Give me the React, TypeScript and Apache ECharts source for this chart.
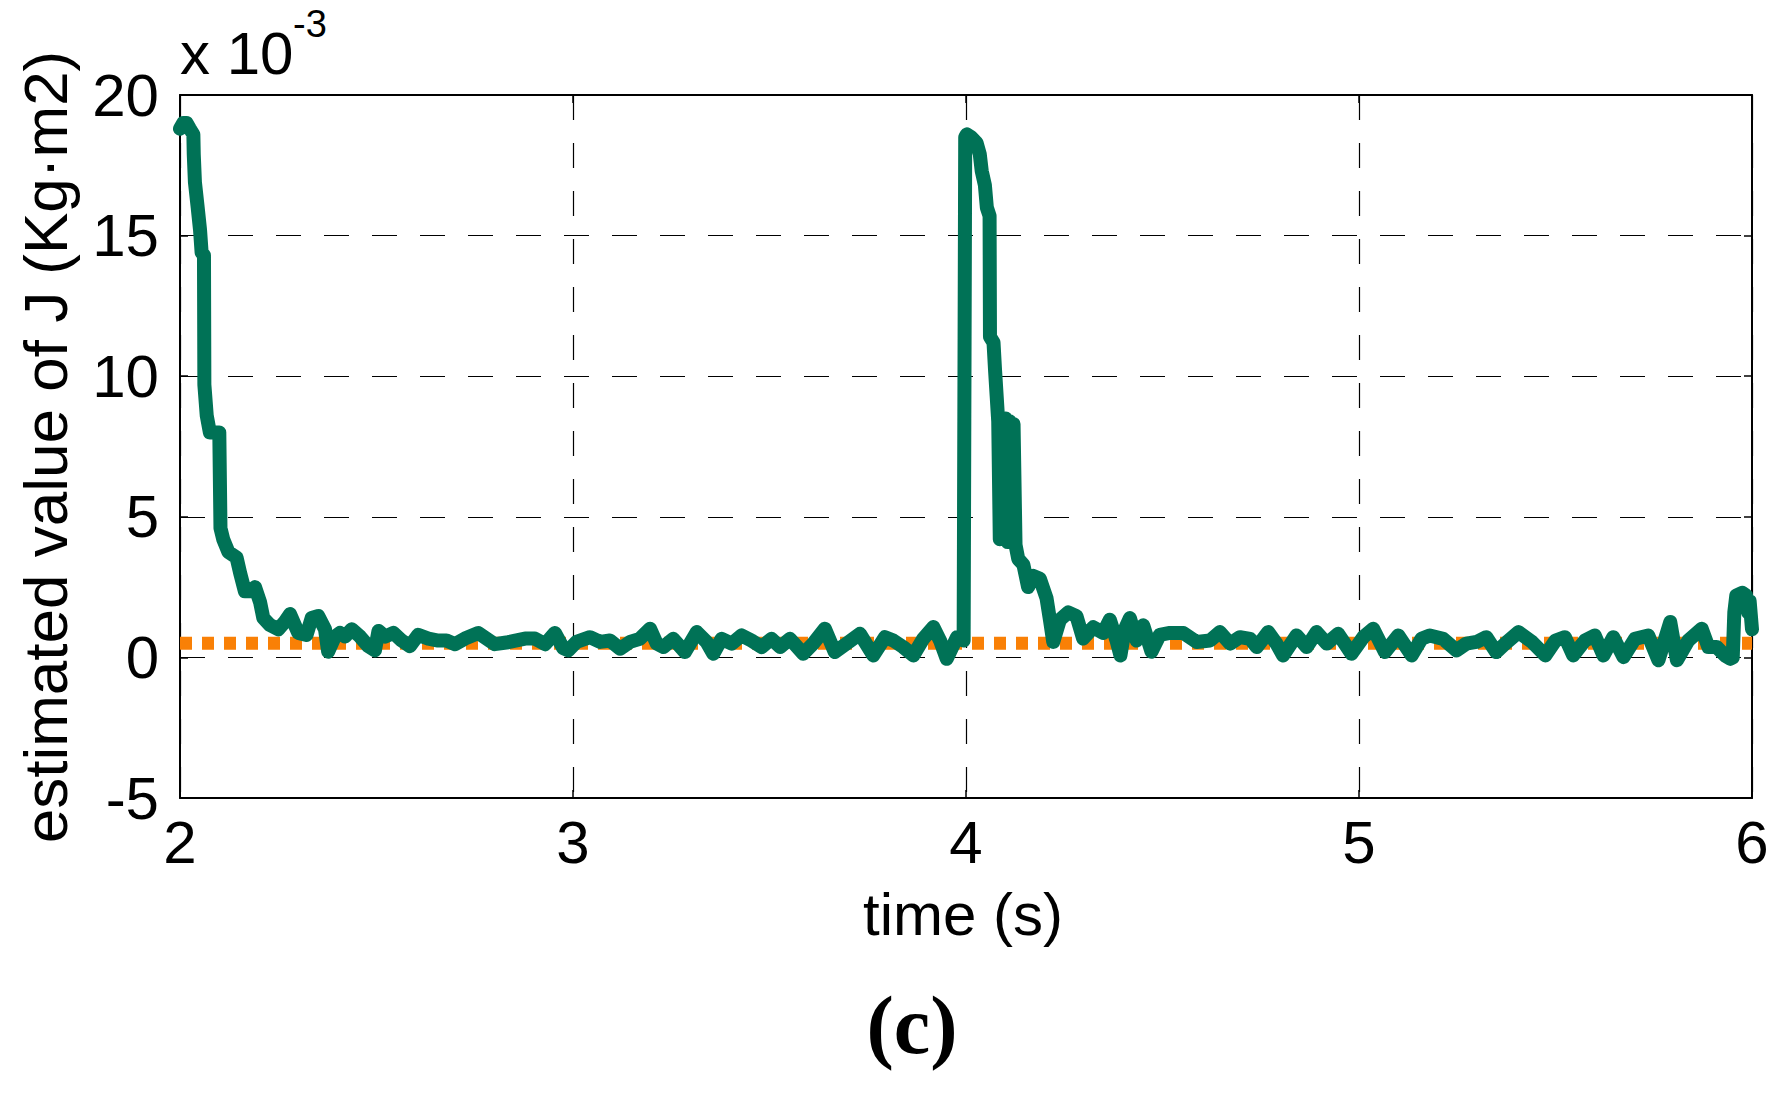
import React, { useEffect, useRef } from "react";
import * as echarts from "echarts";

// time axis (s) and estimated J (x 10^-3 Kg·m2)
const xTickValues = [2, 3, 4, 5, 6];
const yTickValues = [-5, 0, 5, 10, 15, 20];

const tEstimate = [
  2.0, 2.008, 2.017, 2.025, 2.034, 2.035, 2.038, 2.045, 2.051, 2.055, 2.061, 2.062,
  2.068, 2.076, 2.089, 2.1, 2.103, 2.11, 2.123, 2.144, 2.153, 2.165, 2.178, 2.191,
  2.204, 2.212, 2.229, 2.25, 2.267, 2.28, 2.301, 2.322, 2.335, 2.352, 2.369, 2.377,
  2.394, 2.407, 2.42, 2.437, 2.458, 2.479, 2.496, 2.505, 2.522, 2.543, 2.564, 2.585,
  2.606, 2.632, 2.657, 2.678, 2.7, 2.725, 2.759, 2.801, 2.835, 2.878, 2.903, 2.929,
  2.954, 2.975, 2.988, 3.009, 3.043, 3.069, 3.094, 3.12, 3.145, 3.17, 3.196, 3.213,
  3.23, 3.255, 3.285, 3.315, 3.34, 3.357, 3.378, 3.404, 3.429, 3.454, 3.48, 3.505,
  3.527, 3.552, 3.586, 3.611, 3.641, 3.666, 3.696, 3.73, 3.764, 3.794, 3.815, 3.84,
  3.866, 3.891, 3.917, 3.934, 3.951, 3.977, 3.994, 3.998, 4.002, 4.013, 4.027, 4.035,
  4.04, 4.048, 4.053, 4.06, 4.061, 4.07, 4.074, 4.078, 4.082, 4.086, 4.091, 4.096,
  4.101, 4.106, 4.111, 4.116, 4.121, 4.126, 4.133, 4.146, 4.158, 4.171, 4.188, 4.205,
  4.214, 4.222, 4.239, 4.26, 4.281, 4.298, 4.324, 4.349, 4.366, 4.383, 4.393, 4.404,
  4.417, 4.434, 4.451, 4.472, 4.493, 4.519, 4.553, 4.587, 4.621, 4.646, 4.672, 4.697,
  4.723, 4.74, 4.769, 4.79, 4.807, 4.841, 4.867, 4.892, 4.918, 4.947, 4.981, 5.011,
  5.036, 5.066, 5.1, 5.134, 5.159, 5.18, 5.214, 5.248, 5.273, 5.299, 5.324, 5.349,
  5.372, 5.406, 5.44, 5.474, 5.5, 5.524, 5.545, 5.575, 5.6, 5.622, 5.647, 5.673,
  5.702, 5.736, 5.762, 5.792, 5.809, 5.838, 5.872, 5.889, 5.91, 5.931, 5.945, 5.951,
  5.955, 5.96, 5.975, 5.985, 5.99, 5.994, 6.0,
];

const jEstimate = [
  18.8, 19.0, 19.0, 18.8, 18.6, 17.9, 16.9, 16.0, 15.2, 14.4, 14.3, 9.7,
  8.6, 8.0, 8.0, 8.0, 4.6, 4.2, 3.75, 3.55, 3.0, 2.35, 2.35, 2.5,
  1.95, 1.4, 1.15, 1.0, 1.27, 1.54, 0.87, 0.8, 1.4, 1.47, 1.0, 0.2,
  0.74, 0.87, 0.74, 1.0, 0.74, 0.4, 0.25, 0.94, 0.74, 0.87, 0.6, 0.4,
  0.8, 0.67, 0.6, 0.6, 0.47, 0.67, 0.87, 0.47, 0.54, 0.67, 0.67, 0.47,
  0.87, 0.33, 0.25, 0.55, 0.72, 0.55, 0.6, 0.31, 0.55, 0.66, 1.02, 0.49,
  0.37, 0.66, 0.19, 0.9, 0.55, 0.13, 0.66, 0.49, 0.78, 0.6, 0.37, 0.66,
  0.37, 0.66, 0.13, 0.49, 1.02, 0.19, 0.49, 0.84, 0.07, 0.72, 0.6, 0.37,
  0.07, 0.66, 1.08, 0.6, -0.05, 0.72, 0.6, 18.5, 18.6, 18.5, 18.3, 17.9,
  17.3, 16.8, 16.0, 15.7, 11.4, 11.2, 10.2, 9.3, 8.4, 4.2, 8.5, 4.2,
  8.5, 4.1, 8.4, 4.1, 8.3, 4.0, 3.5, 3.3, 2.5, 2.9, 2.8, 2.1,
  1.3, 0.55, 1.34, 1.6, 1.47, 0.67, 1.07, 0.87, 1.34, 0.6, 0.07, 1.0,
  1.4, 0.6, 1.14, 0.2, 0.8, 0.87, 0.87, 0.55, 0.6, 0.9, 0.49, 0.72,
  0.66, 0.37, 0.9, 0.49, 0.07, 0.78, 0.37, 0.9, 0.49, 0.84, 0.13, 0.72,
  1.02, 0.19, 0.78, 0.07, 0.66, 0.78, 0.66, 0.25, 0.49, 0.55, 0.72, 0.19,
  0.49, 0.9, 0.55, 0.07, 0.6, 0.72, 0.07, 0.6, 0.78, 0.07, 0.72, 0.01,
  0.66, 0.78, -0.1, 1.26, -0.1, 0.6, 1.02, 0.37, 0.37, 0.07, -0.05, 0.0,
  1.6, 2.2, 2.3, 2.2, 1.6, 2.0, 1.0,
];

const tReference = [2, 6];
const jReference = [0.5, 0.5];

const SANS = '"Liberation Sans", Arial, sans-serif';
const SERIF = '"Liberation Serif", "Times New Roman", serif';

export default function App() {
  const ref = useRef<HTMLDivElement>(null);

  useEffect(() => {
    const chart = echarts.init(ref.current!, null, { renderer: "svg" });
    const estData = tEstimate.map((t, i) => [t, jEstimate[i]]);
    const refData = tReference.map((t, i) => [t, jReference[i]]);

    const tickLabelStyle = { color: "#000", fontSize: 60, fontFamily: SANS };
    const axisLineStyle = { show: true, onZero: false, lineStyle: { color: "#000", width: 2 } };
    const tickStyle = { show: true, inside: true, length: 8, lineStyle: { color: "#000", width: 1.5 } };
    const gridLine = { show: true, lineStyle: { color: "#000", width: 1.2, type: [25, 23] } };

    chart.setOption({
      animation: false,
      backgroundColor: "#fff",
      grid: { left: 180, right: 35, top: 95, bottom: 297, containLabel: false },
      xAxis: [
        {
          type: "value",
          min: xTickValues[0],
          max: xTickValues[xTickValues.length - 1],
          interval: 1,
          position: "bottom",
          axisLine: axisLineStyle,
          axisTick: tickStyle,
          axisLabel: { ...tickLabelStyle, margin: 14 },
          splitLine: gridLine,
        },
        {
          type: "value",
          min: xTickValues[0],
          max: xTickValues[xTickValues.length - 1],
          interval: 1,
          position: "top",
          axisLine: axisLineStyle,
          axisTick: tickStyle,
          axisLabel: { show: false },
          splitLine: { show: false },
        },
      ],
      yAxis: [
        {
          type: "value",
          min: yTickValues[0],
          max: yTickValues[yTickValues.length - 1],
          interval: 5,
          position: "left",
          axisLine: axisLineStyle,
          axisTick: tickStyle,
          axisLabel: { ...tickLabelStyle, margin: 21 },
          splitLine: gridLine,
        },
        {
          type: "value",
          min: yTickValues[0],
          max: yTickValues[yTickValues.length - 1],
          interval: 5,
          position: "right",
          axisLine: axisLineStyle,
          axisTick: tickStyle,
          axisLabel: { show: false },
          splitLine: { show: false },
        },
      ],
      series: [
        {
          name: "reference J",
          type: "line",
          data: refData,
          showSymbol: false,
          symbol: "none",
          lineStyle: { color: "#F98006", width: 13, type: [12, 10], cap: "butt" },
          z: 2,
        },
        {
          name: "estimated J",
          type: "line",
          data: estData,
          showSymbol: false,
          symbol: "none",
          lineStyle: { color: "#007256", width: 14, cap: "round", join: "round" },
          z: 3,
        },
      ],
      graphic: [
        {
          type: "text",
          x: 180,
          y: 53,
          style: { text: "x 10", fill: "#000", font: `60px ${SANS}`, textAlign: "left", textVerticalAlign: "middle", align: "left", verticalAlign: "middle" },
        },
        {
          type: "text",
          x: 293,
          y: 24,
          style: { text: "-3", fill: "#000", font: `38px ${SANS}`, textAlign: "left", textVerticalAlign: "middle", align: "left", verticalAlign: "middle" },
        },
        {
          type: "text",
          x: 45,
          y: 447,
          rotation: Math.PI / 2,
          style: { text: "estimated value of J (Kg·m2)", fill: "#000", font: `62px ${SANS}`, textAlign: "center", textVerticalAlign: "middle", align: "center", verticalAlign: "middle" },
        },
        {
          type: "text",
          x: 963,
          y: 914,
          style: { text: "time (s)", fill: "#000", font: `60px ${SANS}`, textAlign: "center", textVerticalAlign: "middle", align: "center", verticalAlign: "middle" },
        },
        {
          type: "text",
          x: 912,
          y: 1025,
          style: { text: "(c)", fill: "#000", font: `bold 82px ${SERIF}`, textAlign: "center", textVerticalAlign: "middle", align: "center", verticalAlign: "middle" },
        },
      ],
    });

    return () => chart.dispose();
  }, []);

  return (
    <div
      ref={ref}
      style={{ position: "absolute", left: 0, top: 0, width: 1787, height: 1095 }}
    />
  );
}
